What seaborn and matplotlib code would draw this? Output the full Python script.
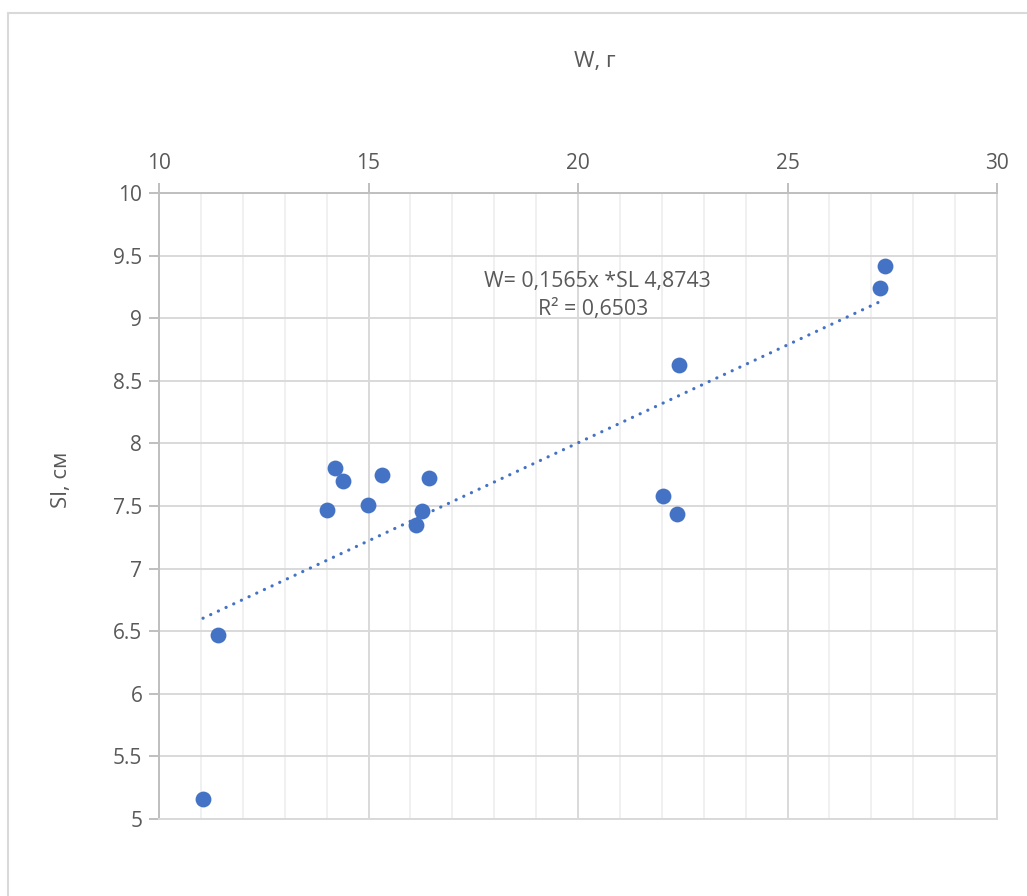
import matplotlib
matplotlib.use('Agg')
import matplotlib.pyplot as plt
import matplotlib.ticker as mticker
from matplotlib.lines import Line2D
import seaborn as sns
import pandas as pd
import numpy as np

# values
w_g = [11.05, 11.41, 14.01, 14.20, 14.39, 14.99, 15.32, 16.13, 16.28, 16.44,
       22.03, 22.36, 22.41, 27.21, 27.33]
sl_cm = [5.16, 6.47, 7.47, 7.80, 7.70, 7.51, 7.75, 7.35, 7.46, 7.72,
         7.58, 7.44, 8.63, 9.24, 9.42]
trend_slope = 0.1565
trend_intercept = 4.8743
x_ticks = [10, 15, 20, 25, 30]
y_ticks = [5, 5.5, 6, 6.5, 7, 7.5, 8, 8.5, 9, 9.5, 10]
y_tick_labels = ['5', '5.5', '6', '6.5', '7', '7.5', '8', '8.5', '9', '9.5', '10']
equation = 'W= 0,1565x *SL 4,8743'
r2_text = 'R² = 0,6503'

sns.set_theme(style='white')
plt.rcParams['font.family'] = ['Open Sans', 'DejaVu Sans']

blue = '#4472C4'
txt = '#595959'
grid_major = '#d9d9d9'
grid_minor = '#f0f0f0'
axis_col = '#bfbfbf'

df = pd.DataFrame({'W': w_g, 'SL': sl_cm})

fig = plt.figure(figsize=(10.27, 8.96), dpi=100)
W, H = 1027, 896
ax = fig.add_axes([159 / W, 1 - 819 / H, (997 - 159) / W, (819 - 193) / H])

# outer chart border (left and top edges visible)
fig.add_artist(Line2D([8 / W, 8 / W], [0, 1 - 13 / H], color='#d9d9d9', lw=1.5,
                      transform=fig.transFigure))
fig.add_artist(Line2D([8 / W, 1], [1 - 13 / H, 1 - 13 / H], color='#d9d9d9', lw=1.5,
                      transform=fig.transFigure))

# trendline across the data range
tx = np.array([df['W'].min(), df['W'].max()])
ty = trend_slope * tx + trend_intercept
ax.plot(tx, ty, color=blue, lw=2.3, linestyle=(0, (0.05, 2.6)),
        dash_capstyle='round', zorder=3)

sns.scatterplot(data=df, x='W', y='SL', ax=ax, color=blue, s=130,
                linewidth=0, zorder=4, legend=False)

ax.set_xlim(10, 30)
ax.set_ylim(5, 10)
ax.xaxis.tick_top()
ax.set_xticks(x_ticks)
ax.xaxis.set_minor_locator(mticker.MultipleLocator(1))
ax.set_yticks(y_ticks)
ax.set_yticklabels(y_tick_labels)

ax.grid(which='major', axis='both', color=grid_major, lw=1.4, zorder=0)
ax.grid(which='minor', axis='x', color=grid_minor, lw=1.4, zorder=0)
ax.set_axisbelow(True)

for side in ['left', 'top']:
    ax.spines[side].set_color(axis_col)
    ax.spines[side].set_linewidth(1.4)
for side in ['right', 'bottom']:
    ax.spines[side].set_color(grid_major)
    ax.spines[side].set_linewidth(1.4)

ax.tick_params(axis='both', which='major', direction='out', length=7, width=1.4,
               color=axis_col, labelcolor=txt, labelsize=15)
ax.tick_params(axis='x', which='major', top=True, bottom=False, pad=7)
ax.tick_params(axis='y', which='major', left=True, pad=5)
ax.tick_params(axis='x', which='minor', length=0)

ax.set_xlabel('')
ax.set_ylabel('')
fig.text(595 / W, 1 - 62 / H, 'W, г', ha='center', va='center', color=txt, fontsize=16)
fig.text(62 / W, 1 - 480 / H, 'Sl, см', ha='center', va='center', color=txt,
         fontsize=16, rotation=90)

fig.text(597 / W, 1 - 281 / H, equation, ha='center', va='center', color=txt, fontsize=15.3)
fig.text(593 / W, 1 - 310 / H, r2_text, ha='center', va='center', color=txt, fontsize=15.3)

fig.savefig('out.png', dpi=100, facecolor='white')
